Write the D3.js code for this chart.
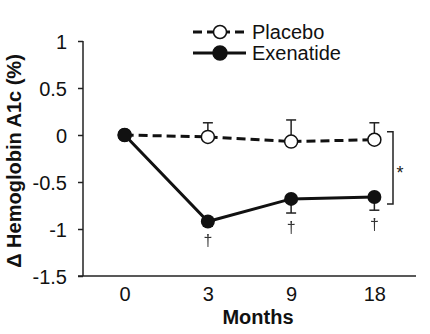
<!DOCTYPE html>
<html><head><meta charset="utf-8">
<script src="https://cdn.jsdelivr.net/npm/d3@7"></script>
<style>body{margin:0;background:#fff}text{font-family:"Liberation Sans",Arial,sans-serif}</style>
</head><body><svg id="c" width="430" height="334">
<defs><filter id="gray" x="-50%" y="-50%" width="200%" height="200%"><feOffset dx="0" dy="0"/></filter></defs>
</svg>
<script>
const months = ["0","3","9","18"];
const placebo = [0, -0.02, -0.07, -0.05];
const placeboErrUp = [0, 0.15, 0.23, 0.18];
const exenatide = [0, -0.92, -0.68, -0.66];
const exenatideErrDown = [0, 0.05, 0.15, 0.14];
const yTicks = [1, 0.5, 0, -0.5, -1, -1.5];
const sigMarks = ["", "†", "†", "†"];

const svg = d3.select("#c");
const x = d3.scalePoint().domain(months).range([83, 416]).padding(0.5);
const y = d3.scaleLinear().domain([-1.5, 1]).range([276, 41]);

// axes
const yAx = svg.append("g").attr("transform","translate(83,0)")
  .call(d3.axisLeft(y).tickValues(yTicks).tickSize(5).tickPadding(11).tickFormat(d=>String(d)));
const xAx = svg.append("g").attr("transform","translate(0,276)")
  .call(d3.axisBottom(x).tickSize(0).tickPadding(11));
[yAx,xAx].forEach(a=>{a.select(".domain").remove();
  a.selectAll("line").attr("stroke","#222").attr("stroke-width",1.5);
  a.selectAll("text").attr("font-size",20).attr("fill","#111").attr("font-family","Liberation Sans, Arial");});
yAx.selectAll("text").attr("dy","0.35em");
svg.append("line").attr("x1",83).attr("x2",83).attr("y1",y(1)).attr("y2",276).attr("stroke","#222").attr("stroke-width",1.5);
svg.append("line").attr("x1",78).attr("x2",416).attr("y1",276).attr("y2",276).attr("stroke","#222").attr("stroke-width",1.5);

svg.append("text").attr("transform","translate(21,161) rotate(-90)").attr("text-anchor","middle")
  .attr("font-size",20).attr("font-weight","bold").attr("fill","#111").text("Δ Hemoglobin A1c (%)");
svg.append("text").attr("x",258).attr("y",324).attr("text-anchor","middle")
  .attr("font-size",20).attr("font-weight","bold").attr("fill","#111").text("Months");

// error bars
const cap = 5;
months.forEach((m,i)=>{
  if(i===0) return;
  const px = x(m);
  const pt = y(placebo[i]+placeboErrUp[i]), eb = y(exenatide[i]-exenatideErrDown[i]);
  svg.append("line").attr("x1",px).attr("x2",px).attr("y1",y(placebo[i])).attr("y2",pt).attr("stroke","#222").attr("stroke-width",1.5);
  svg.append("line").attr("x1",px-cap).attr("x2",px+cap).attr("y1",pt).attr("y2",pt).attr("stroke","#222").attr("stroke-width",1.5);
  svg.append("line").attr("x1",px).attr("x2",px).attr("y1",y(exenatide[i])).attr("y2",eb).attr("stroke","#222").attr("stroke-width",1.5);
  svg.append("line").attr("x1",px-cap).attr("x2",px+cap).attr("y1",eb).attr("y2",eb).attr("stroke","#222").attr("stroke-width",1.5);
});

const line = d3.line().x((d,i)=>x(months[i])).y(d=>y(d));
svg.append("path").datum(placebo).attr("d",line).attr("fill","none").attr("stroke","#111").attr("stroke-width",3).attr("stroke-dasharray","9,5");
svg.append("path").datum(exenatide).attr("d",line).attr("fill","none").attr("stroke","#111").attr("stroke-width",3);

svg.selectAll(".pc").data(placebo).enter().append("circle").attr("cx",(d,i)=>x(months[i])).attr("cy",d=>y(d))
  .attr("r",6.5).attr("fill","#fff").attr("stroke","#111").attr("stroke-width",1.5);
svg.selectAll(".ec").data(exenatide).enter().append("circle").attr("cx",(d,i)=>x(months[i])).attr("cy",d=>y(d))
  .attr("r",7).attr("fill","#111");

// significance daggers
const dg = svg.append("g").attr("filter","url(#gray)");
sigMarks.forEach((s,i)=>{
  if(!s) return;
  dg.append("text").attr("x",x(months[i])).attr("y",y(exenatide[i]-exenatideErrDown[i])+20)
    .attr("text-anchor","middle").attr("font-size",16).attr("fill","#333").text(s);
});

// bracket
const bx = 393;
svg.append("path").attr("d",`M${bx-6},${y(placebo[3])-8}H${bx}V${y(exenatide[3])+7}H${bx-6}`)
  .attr("fill","none").attr("stroke","#222").attr("stroke-width",1.5);
svg.append("text").attr("x",bx+7).attr("y",179).attr("text-anchor","middle").attr("font-size",18).attr("fill","#222").text("*");

// legend
const lg = [{name:"Placebo",dash:"9,5",open:true,y:32},{name:"Exenatide",dash:null,open:false,y:53}];
lg.forEach(l=>{
  svg.append("line").attr("x1",193).attr("x2",246).attr("y1",l.y).attr("y2",l.y).attr("stroke","#111").attr("stroke-width",3)
    .attr("stroke-dasharray",l.dash);
  svg.append("circle").attr("cx",220).attr("cy",l.y).attr("r",l.open?6.5:7).attr("fill",l.open?"#fff":"#111").attr("stroke","#111").attr("stroke-width",1.5);
  svg.append("text").attr("x",252).attr("y",l.y+7).attr("font-size",20).attr("fill","#111").text(l.name);
});
</script></body></html>
